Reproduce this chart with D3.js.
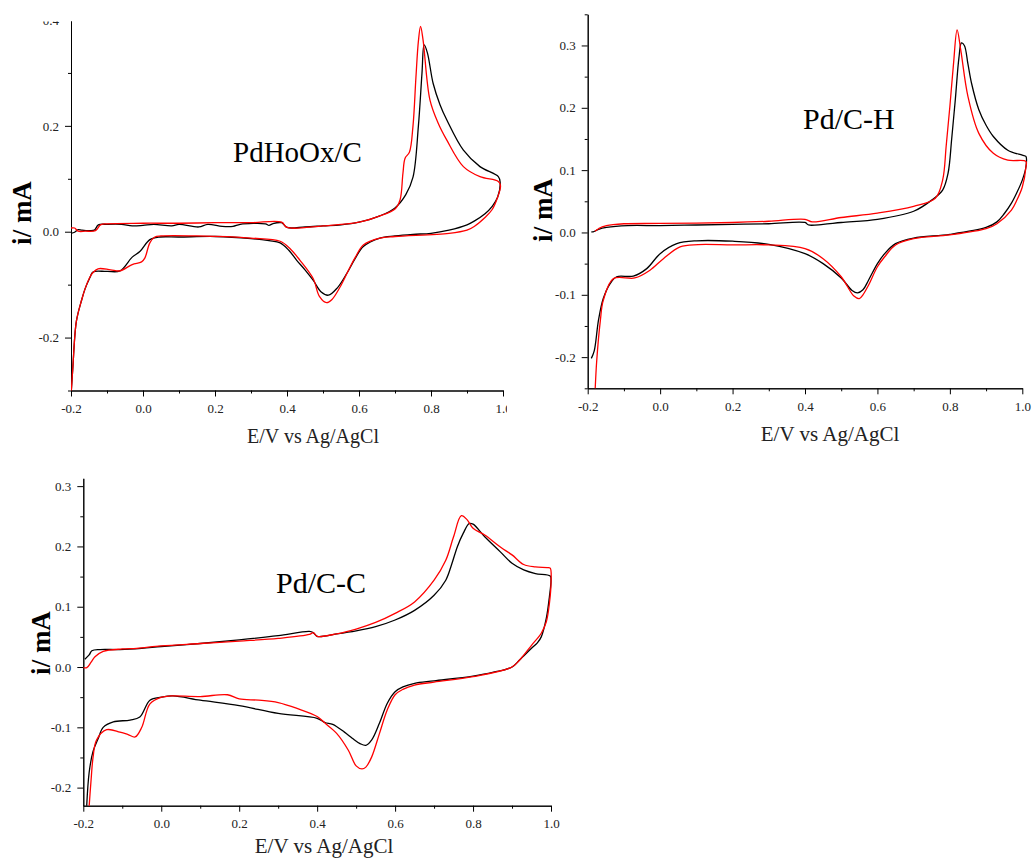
<!DOCTYPE html>
<html>
<head>
<meta charset="utf-8">
<script src="https://cdn.jsdelivr.net/npm/d3@7"></script>
<style>
  body { margin: 0; background: #fff; }
  svg { display: block; }
</style>
</head>
<body>
<div id="chart"></div>
<script>
// shared x axis ticks (E / V)
const xMajorTicks = [-0.2, 0.0, 0.2, 0.4, 0.6, 0.8, 1.0];
const xTickLabels = ["-0.2", "0.0", "0.2", "0.4", "0.6", "0.8", "1.0"];
const xMinorTicks = [-0.1, 0.1, 0.3, 0.5, 0.7, 0.9];

// PdHoOx/C y ticks
const hooxYTicks = [-0.2, 0.0, 0.2, 0.4];
const hooxYLabels = ["-0.2", "0.0", "0.2", "0.4"];
const hooxYMinor = [-0.3, -0.1, 0.1, 0.3];

// Pd/C-H y ticks
const pdhYTicks = [-0.2, -0.1, 0.0, 0.1, 0.2, 0.3];
const pdhYLabels = ["-0.2", "-0.1", "0.0", "0.1", "0.2", "0.3"];
const pdhYMinor = [-0.25, -0.15, -0.05, 0.05, 0.15, 0.25, 0.35];

// Pd/C-C y ticks
const pdcYTicks = [-0.2, -0.1, 0.0, 0.1, 0.2, 0.3];
const pdcYLabels = ["-0.2", "-0.1", "0.0", "0.1", "0.2", "0.3"];
const pdcYMinor = [-0.15, -0.05, 0.05, 0.15, 0.25];

// CV loops [E, i]: anodic sweep then cathodic sweep
const hooxBlack = [
  [-0.2,-0.003],[-0.19,-0.001],[-0.18,0.004],[-0.17,0.003],[-0.15,0.002],[-0.135,0.003],[-0.124,0.013],
  [-0.1,0.014],[-0.06,0.014],[-0.03,0.011],[0.0,0.012],[0.03,0.014],[0.08,0.011],[0.1,0.014],[0.155,0.009],
  [0.18,0.014],[0.22,0.010],[0.25,0.010],[0.27,0.014],[0.34,0.015],[0.35,0.012],[0.36,0.015],[0.385,0.017],
  [0.40,0.008],[0.45,0.009],[0.5,0.011],[0.55,0.013],[0.6,0.018],[0.658,0.030],[0.7,0.045],[0.73,0.070],
  [0.75,0.103],[0.765,0.200],[0.775,0.300],[0.781,0.353],[0.79,0.338],[0.806,0.280],[0.825,0.240],
  [0.844,0.211],[0.89,0.154],[0.936,0.123],[0.987,0.104],
  [0.992,0.094],[0.985,0.065],[0.97,0.048],[0.95,0.034],[0.92,0.020],[0.9,0.013],[0.85,0.003],[0.8,-0.003],
  [0.75,-0.005],[0.7,-0.008],[0.658,-0.012],[0.612,-0.028],[0.59,-0.050],[0.566,-0.079],[0.54,-0.106],
  [0.515,-0.120],[0.495,-0.114],[0.473,-0.092],[0.45,-0.072],[0.427,-0.054],[0.405,-0.035],[0.381,-0.021],
  [0.35,-0.017],[0.3,-0.013],[0.2,-0.009],[0.1,-0.010],[0.047,-0.010],[0.019,-0.015],[-0.008,-0.037],
  [-0.03,-0.048],[-0.064,-0.074],[-0.1,-0.075],[-0.139,-0.076],[-0.147,-0.086],[-0.161,-0.108],
  [-0.17,-0.128],[-0.185,-0.169],[-0.195,-0.258],[-0.2,-0.31]
];
const hooxRed = [
  [-0.2,0.007],[-0.19,0.007],[-0.18,0.001],[-0.16,0.001],[-0.132,0.002],[-0.118,0.013],[-0.1,0.015],
  [0.0,0.016],[0.1,0.016],[0.2,0.017],[0.3,0.017],[0.385,0.018],[0.40,0.008],[0.5,0.011],[0.6,0.018],
  [0.658,0.030],[0.7,0.043],[0.714,0.060],[0.722,0.110],[0.728,0.139],[0.74,0.150],[0.75,0.200],
  [0.758,0.290],[0.765,0.360],[0.771,0.388],[0.778,0.362],[0.797,0.249],[0.82,0.205],[0.844,0.173],
  [0.89,0.123],[0.936,0.104],[0.987,0.095],
  [0.993,0.087],[0.985,0.065],[0.97,0.042],[0.95,0.027],[0.92,0.010],[0.9,0.003],[0.85,-0.003],[0.7,-0.009],
  [0.658,-0.012],[0.612,-0.025],[0.59,-0.048],[0.575,-0.067],[0.547,-0.105],[0.525,-0.128],[0.51,-0.134],
  [0.49,-0.122],[0.473,-0.089],[0.436,-0.054],[0.41,-0.033],[0.381,-0.018],[0.3,-0.012],[0.15,-0.008],
  [0.05,-0.008],[0.033,-0.010],[0.019,-0.021],[0.005,-0.050],[-0.004,-0.057],[-0.03,-0.062],
  [-0.064,-0.074],[-0.09,-0.072],[-0.125,-0.070],[-0.14,-0.078],[-0.147,-0.085],[-0.161,-0.108],
  [-0.17,-0.128],[-0.185,-0.169],[-0.195,-0.258],[-0.2,-0.31]
];

const pdhBlack = [
  [-0.19,0.001],[-0.185,0.001],[-0.17,0.005],[-0.148,0.008],[-0.09,0.011],[0.0,0.011],[0.1,0.012],
  [0.2,0.013],[0.3,0.014],[0.4,0.016],[0.41,0.012],[0.45,0.013],[0.5,0.016],[0.6,0.021],[0.7,0.034],
  [0.75,0.052],[0.78,0.068],[0.795,0.095],[0.805,0.150],[0.815,0.213],[0.825,0.280],[0.832,0.304],
  [0.84,0.300],[0.85,0.270],[0.86,0.239],[0.88,0.197],[0.9,0.172],[0.92,0.154],[0.96,0.132],[1.0,0.124],
  [1.01,0.122],
  [1.01,0.105],[1.0,0.084],[0.985,0.064],[0.97,0.047],[0.95,0.030],[0.93,0.017],[0.9,0.008],[0.8,-0.003],
  [0.7,-0.009],[0.65,-0.018],[0.62,-0.034],[0.6,-0.050],[0.575,-0.077],[0.56,-0.092],[0.545,-0.097],
  [0.53,-0.093],[0.5,-0.073],[0.45,-0.050],[0.4,-0.034],[0.3,-0.019],[0.2,-0.014],[0.1,-0.0134],
  [0.046,-0.018],[0.0,-0.034],[-0.037,-0.058],[-0.074,-0.070],[-0.12,-0.071],[-0.138,-0.082],
  [-0.157,-0.106],[-0.17,-0.140],[-0.182,-0.190],[-0.19,-0.202]
];
const pdhRed = [
  [-0.18,0.002],[-0.17,0.006],[-0.16,0.009],[-0.13,0.0125],[-0.1,0.014],[0.0,0.0145],[0.2,0.016],
  [0.3,0.018],[0.4,0.021],[0.42,0.017],[0.5,0.024],[0.6,0.031],[0.7,0.042],[0.76,0.055],[0.78,0.084],
  [0.79,0.140],[0.8,0.202],[0.81,0.270],[0.82,0.325],[0.83,0.293],[0.85,0.218],[0.88,0.159],[0.92,0.127],
  [0.96,0.116],[1.01,0.114],
  [1.01,0.105],[1.0,0.073],[0.985,0.052],[0.97,0.036],[0.93,0.014],[0.9,0.006],[0.8,-0.004],[0.7,-0.010],
  [0.65,-0.020],[0.62,-0.039],[0.6,-0.055],[0.575,-0.085],[0.56,-0.100],[0.55,-0.106],[0.535,-0.102],
  [0.5,-0.071],[0.45,-0.042],[0.4,-0.026],[0.3,-0.020],[0.2,-0.020],[0.105,-0.0195],[0.055,-0.023],
  [0.009,-0.042],[-0.028,-0.0605],[-0.07,-0.073],[-0.129,-0.074],[-0.157,-0.109],[-0.165,-0.141],
  [-0.175,-0.205],[-0.18,-0.260]
];

const pdcBlack = [
  [-0.196,0.013],[-0.185,0.020],[-0.178,0.027],[-0.157,0.029],[-0.106,0.029],[-0.05,0.031],[0.0,0.034],
  [0.1,0.039],[0.2,0.045],[0.3,0.052],[0.38,0.059],[0.39,0.057],[0.40,0.051],[0.45,0.055],[0.5,0.060],
  [0.55,0.067],[0.6,0.078],[0.65,0.094],[0.7,0.119],[0.73,0.144],[0.745,0.170],[0.76,0.200],[0.775,0.222],
  [0.79,0.238],[0.80,0.237],[0.83,0.216],[0.87,0.191],[0.90,0.172],[0.93,0.161],[0.96,0.155],[0.998,0.151],
  [1.0,0.144],[0.996,0.117],[0.988,0.081],[0.975,0.050],[0.965,0.040],[0.95,0.031],[0.92,0.012],[0.9,0.000],
  [0.85,-0.009],[0.8,-0.015],[0.7,-0.023],[0.65,-0.027],[0.62,-0.033],[0.6,-0.041],[0.58,-0.060],
  [0.56,-0.093],[0.54,-0.121],[0.525,-0.130],[0.51,-0.127],[0.49,-0.118],[0.47,-0.108],[0.44,-0.095],
  [0.42,-0.092],[0.40,-0.085],[0.3,-0.077],[0.2,-0.064],[0.1,-0.055],[0.03,-0.048],[0.0,-0.050],
  [-0.029,-0.055],[-0.055,-0.083],[-0.08,-0.088],[-0.123,-0.091],[-0.149,-0.100],[-0.162,-0.119],
  [-0.175,-0.140],[-0.185,-0.175],[-0.192,-0.240]
];
const pdcRed = [
  [-0.2,-0.001],[-0.191,-0.001],[-0.18,0.008],[-0.17,0.017],[-0.149,0.026],[-0.1,0.030],[-0.063,0.031],
  [0.0,0.035],[0.1,0.039],[0.2,0.043],[0.3,0.0475],[0.38,0.054],[0.39,0.057],[0.40,0.051],[0.45,0.055],
  [0.5,0.063],[0.55,0.074],[0.6,0.089],[0.65,0.108],[0.7,0.144],[0.73,0.177],[0.75,0.216],[0.77,0.251],
  [0.785,0.244],[0.8,0.230],[0.83,0.219],[0.87,0.199],[0.9,0.186],[0.93,0.170],[0.96,0.166],[0.99,0.165],
  [0.998,0.164],
  [1.0,0.139],[0.996,0.106],[0.988,0.075],[0.975,0.056],[0.95,0.036],[0.92,0.012],[0.9,0.0],[0.8,-0.016],
  [0.7,-0.025],[0.65,-0.030],[0.62,-0.037],[0.6,-0.046],[0.58,-0.071],[0.56,-0.110],[0.54,-0.149],
  [0.525,-0.166],[0.515,-0.169],[0.5,-0.164],[0.48,-0.138],[0.45,-0.110],[0.42,-0.093],[0.4,-0.082],
  [0.35,-0.069],[0.3,-0.059],[0.25,-0.055],[0.2,-0.053],[0.17,-0.046],[0.1,-0.049],[0.025,-0.048],
  [0.001,-0.050],[-0.029,-0.061],[-0.05,-0.100],[-0.067,-0.116],[-0.085,-0.112],[-0.106,-0.108],
  [-0.14,-0.104],[-0.166,-0.121],[-0.175,-0.150],[-0.18,-0.187],[-0.186,-0.240]
];

const SERIF = "'Liberation Serif', 'Times New Roman', serif";
const W = 1035, H = 862;

const svg = d3.select("#chart").append("svg")
    .attr("width", W)
    .attr("height", H);

const defs = svg.append("defs");

// layout of each sub figure
const panels = [
  { id: "hoox", title: "PdHoOx/C", black: hooxBlack, red: hooxRed,
    xRange: [71, 503], yDomain: [-0.3, 0.4], yRange: [390.5, 20],
    yTicks: hooxYTicks, yLabels: hooxYLabels, yMinor: hooxYMinor,
    titlePos: [233, 162, 29], xLabelPos: [313, 443, 20], yLabelPos: [31, 213, 27],
    frame: [0, 21.5, 507, 842] },
  { id: "pdh", title: "Pd/C-H", black: pdhBlack, red: pdhRed,
    xRange: [587.7, 1022.3], yDomain: [-0.25, 0.35], yRange: [388.3, 14.3],
    yTicks: pdhYTicks, yLabels: pdhYLabels, yMinor: pdhYMinor,
    titlePos: [803, 129, 30], xLabelPos: [830, 441, 21], yLabelPos: [552, 210, 27] },
  { id: "pdc", title: "Pd/C-C", black: pdcBlack, red: pdcRed,
    xRange: [83.3, 551], yDomain: [-0.23, 0.313], yRange: [805.7, 478.3],
    yTicks: pdcYTicks, yLabels: pdcYLabels, yMinor: pdcYMinor,
    titlePos: [276, 593, 30], xLabelPos: [324, 853, 21], yLabelPos: [50, 643, 27] }
];

function styleAxis(sel) {
  sel.attr("font-family", SERIF).attr("font-size", 13);
  sel.selectAll("path, line").attr("stroke", "#000").attr("stroke-width", 1);
  sel.selectAll("text").attr("fill", "#222");
}

function drawPanel(p) {
  const x = d3.scaleLinear().domain([-0.2, 1.0]).range(p.xRange);
  const y = d3.scaleLinear().domain(p.yDomain).range(p.yRange);

  let g = svg.append("g").attr("class", "panel-" + p.id);
  if (p.frame) {
    defs.append("clipPath").attr("id", "frame-" + p.id)
      .append("rect")
      .attr("x", p.frame[0]).attr("y", p.frame[1])
      .attr("width", p.frame[2]).attr("height", p.frame[3]);
    g.attr("clip-path", "url(#frame-" + p.id + ")");
  }

  // plot area clip (curves run past the axis limits)
  defs.append("clipPath").attr("id", "plot-" + p.id)
    .append("rect")
    .attr("x", p.xRange[0]).attr("y", p.yRange[1])
    .attr("width", p.xRange[1] - p.xRange[0] + 8)
    .attr("height", p.yRange[0] - p.yRange[1]);

  // minor ticks
  g.append("g")
    .attr("transform", `translate(0,${p.yRange[0]})`)
    .call(d3.axisBottom(x).tickValues(xMinorTicks).tickSize(3).tickSizeOuter(0).tickFormat(""))
    .call(styleAxis);
  g.append("g")
    .attr("transform", `translate(${p.xRange[0]},0)`)
    .call(d3.axisLeft(y).tickValues(p.yMinor).tickSize(3).tickSizeOuter(0).tickFormat(""))
    .call(styleAxis);

  // major ticks
  g.append("g")
    .attr("transform", `translate(0,${p.yRange[0]})`)
    .call(d3.axisBottom(x).tickValues(xMajorTicks).tickSize(6).tickPadding(7).tickSizeOuter(0)
      .tickFormat((d, i) => xTickLabels[i]))
    .call(styleAxis);
  g.append("g")
    .attr("transform", `translate(${p.xRange[0]},0)`)
    .call(d3.axisLeft(y).tickValues(p.yTicks).tickSize(6).tickPadding(6).tickSizeOuter(0)
      .tickFormat((d, i) => p.yLabels[i]))
    .call(styleAxis);

  // curves
  const line = d3.line()
    .x(d => x(d[0]))
    .y(d => y(d[1]))
    .curve(d3.curveCatmullRom.alpha(0.5));

  const plot = g.append("g").attr("clip-path", "url(#plot-" + p.id + ")");
  plot.append("path")
    .datum(p.black)
    .attr("d", line)
    .attr("fill", "none")
    .attr("stroke", "#000")
    .attr("stroke-width", 1.3);
  plot.append("path")
    .datum(p.red)
    .attr("d", line)
    .attr("fill", "none")
    .attr("stroke", "#ff0000")
    .attr("stroke-width", 1.3);

  // texts
  g.append("text")
    .attr("x", p.titlePos[0]).attr("y", p.titlePos[1])
    .attr("font-family", SERIF).attr("font-size", p.titlePos[2])
    .attr("fill", "#000")
    .text(p.title);

  g.append("text")
    .attr("x", p.xLabelPos[0]).attr("y", p.xLabelPos[1])
    .attr("text-anchor", "middle")
    .attr("font-family", SERIF).attr("font-size", p.xLabelPos[2])
    .attr("fill", "#222")
    .text("E/V vs Ag/AgCl");

  g.append("text")
    .attr("transform", `translate(${p.yLabelPos[0]},${p.yLabelPos[1]}) rotate(-90)`)
    .attr("text-anchor", "middle")
    .attr("font-family", SERIF).attr("font-size", p.yLabelPos[2])
    .attr("font-weight", "bold")
    .attr("fill", "#000")
    .text("i/ mA");
}

panels.forEach(drawPanel);
</script>
</body>
</html>
